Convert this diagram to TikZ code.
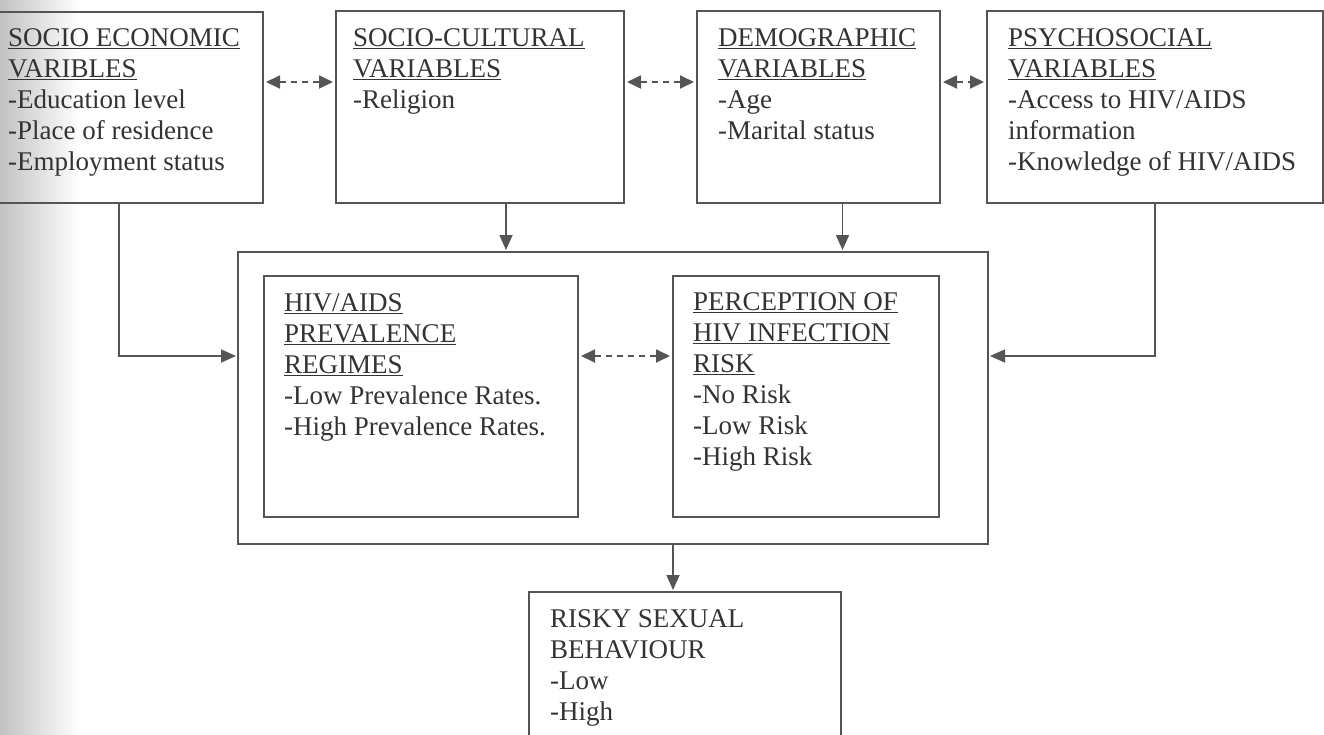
\documentclass[tikz,border=0pt]{standalone}
\usepackage{fontspec}
\setmainfont{Liberation Serif}
\usetikzlibrary{arrows.meta,positioning}
\definecolor{ink}{HTML}{333333}
\definecolor{edge}{HTML}{555555}

\begin{document}
\begin{tikzpicture}[x=1pt,y=-1pt,
  box/.style={draw=edge,line width=2pt,anchor=north west,inner sep=0pt},
  txt/.style={align=left,inner sep=0pt,text=ink,font=\fontsize{27}{31}\selectfont},
  ar/.style={-{Triangle[length=15pt,width=13pt]},line width=1.8pt,draw=edge,shorten >=1pt},
  dar/.style={{Triangle[length=14pt,width=13pt]}-{Triangle[length=14pt,width=13pt]},line width=1.8pt,draw=edge,
    dash pattern=on 6pt off 5pt,shorten >=2pt,shorten <=2pt}]
\path[use as bounding box] (0,0) rectangle (1324,734);
\clip (0,0) rectangle (1324,734);
% edge of the scanned page
\shade[left color=black!24,right color=white] (0,0) rectangle (80,734);

% upper row
\node[box,minimum width=288pt,minimum height=191pt] (soc) at (-26,11) {};
\node[box,minimum width=288pt,minimum height=192pt] (cul) at (335,10) {};
\node[box,minimum width=243pt,minimum height=192pt] (dem) at (696,10) {};
\node[box,minimum width=336pt,minimum height=192pt] (psy) at (986,10) {};
\node[txt,below right=17pt and 34pt of soc.north west] (socT)
  {\underline{SOCIO ECONOMIC}\\ \underline{VARIBLES}\\ -Education level\\ -Place of residence\\ -Employment status};
\node[txt,below right=18pt and 18pt of cul.north west] (culT)
  {\underline{SOCIO-CULTURAL}\\ \underline{VARIABLES}\\ -Religion};
\node[txt,below right=18pt and 22pt of dem.north west] (demT)
  {\underline{DEMOGRAPHIC}\\ \underline{VARIABLES}\\ -Age\\ -Marital status};
\node[txt,below right=18pt and 22pt of psy.north west] (psyT)
  {\underline{PSYCHOSOCIAL}\\ \underline{VARIABLES}\\ -Access to HIV/AIDS\\ information\\ -Knowledge of HIV/AIDS};

% middle frame
\node[box,minimum width=750pt,minimum height=292pt] (outer) at (237,251) {};
\node[box,minimum width=314pt,minimum height=241pt] (hiv) at (263,275) {};
\node[box,minimum width=266pt,minimum height=241pt] (per) at (672,275) {};
\node[txt,below right=18pt and 21pt of hiv.north west] (hivT)
  {\underline{HIV/AIDS}\\ \underline{PREVALENCE}\\ \underline{REGIMES}\\ -Low Prevalence Rates.\\ -High Prevalence Rates.};
\node[txt,below right=17pt and 21pt of per.north west] (perT)
  {\underline{PERCEPTION OF}\\ \underline{HIV INFECTION}\\ \underline{RISK}\\ -No Risk\\ -Low Risk\\ -High Risk};

% outcome
\node[box,minimum width=312pt,minimum height=170pt] (risk) at (528,591) {};
\node[txt,below right=18pt and 22pt of risk.north west] (riskT)
  {RISKY SEXUAL\\ BEHAVIOUR\\ -Low\\ -High};

\coordinate (top) at (0,82);
\coordinate (mid) at (0,356);
\draw[dar] (soc.east |- top) -- (cul.west |- top);
\draw[dar] (cul.east |- top) -- (dem.west |- top);
\draw[dar] (dem.east |- top) -- (psy.west |- top);
\draw[dar] (hiv.east |- mid) -- (per.west |- mid);
\draw[ar] ([xshift=26pt]cul.south) -- ([xshift=26pt]cul.south |- outer.north);
\draw[ar] ([xshift=24pt]dem.south) -- ([xshift=24pt]dem.south |- outer.north);
\draw[ar] (soc.south) |- (outer.west |- mid);
\draw[ar] (psy.south) |- (outer.east |- mid);
\draw[ar] ([xshift=-12pt]risk.north |- outer.south) -- ([xshift=-12pt]risk.north);
\end{tikzpicture}
\end{document}
